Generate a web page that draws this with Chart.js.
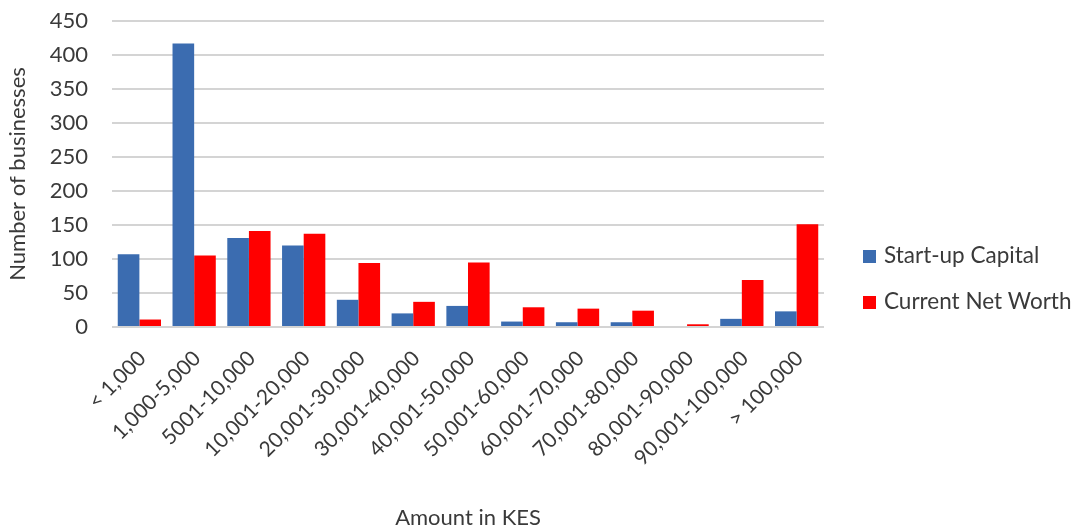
<!DOCTYPE html>
<html>
<head>
<meta charset="utf-8">
<script src="https://cdn.jsdelivr.net/npm/chart.js@4.4.1/dist/chart.umd.min.js"></script>
<style>
  html, body { margin: 0; padding: 0; background: #ffffff; }
  #wrap { width: 1084px; height: 531px; position: relative; }
</style>
</head>
<body>
<div id="wrap"><canvas id="chart" width="1084" height="531"></canvas></div>
<script>
// Amount bands (KES)
const categories = [
  '< 1,000', '1,000-5,000', '5001-10,000', '10,001-20,000', '20,001-30,000',
  '30,001-40,000', '40,001-50,000', '50,001-60,000', '60,001-70,000',
  '70,001-80,000', '80,001-90,000', '90,001-100,000', '> 100,000'
];
// Number of businesses per band
const startUpCapital  = [107, 417, 131, 120, 40, 20, 31, 8, 7, 7, 0, 12, 23];
const currentNetWorth = [11, 105, 141, 137, 94, 37, 95, 29, 27, 24, 4, 69, 151];
const seriesNames = ['Start-up Capital', 'Current Net Worth'];
const yTicks = { min: 0, max: 450, step: 50 };

const FONT = 'Lato, "Open Sans", sans-serif';
const TEXT = '#3a3a3a';

// Legend drawn to the right of the plot area
const sideLegend = {
  id: 'sideLegend',
  afterDraw(chart) {
    const ctx = chart.ctx;
    const area = chart.chartArea;
    ctx.save();
    ctx.font = '22.5px ' + FONT;
    ctx.textBaseline = 'middle';
    ctx.textAlign = 'left';
    chart.data.datasets.forEach((ds, i) => {
      const y = 256 + i * 46;
      const x = area.right + 39;
      ctx.fillStyle = ds.backgroundColor;
      ctx.fillRect(x, y - 6, 13, 13);
      ctx.fillStyle = TEXT;
      ctx.fillText(ds.label, x + 21, y);
    });
    ctx.restore();
  }
};

new Chart(document.getElementById('chart'), {
  type: 'bar',
  data: {
    labels: categories,
    datasets: [
      { label: seriesNames[0], data: startUpCapital, backgroundColor: '#3B6CB0' },
      { label: seriesNames[1], data: currentNetWorth, backgroundColor: '#FF0000' }
    ]
  },
  options: {
    responsive: false,
    animation: false,
    devicePixelRatio: 1,
    layout: { padding: { top: 21, right: 260, left: 0, bottom: 0 } },
    datasets: { bar: { categoryPercentage: 0.79, barPercentage: 1.0 } },
    plugins: {
      legend: { display: false },
      tooltip: { enabled: false }
    },
    scales: {
      x: {
        grid: { display: false },
        border: { display: false },
        ticks: {
          color: TEXT,
          font: { family: FONT, size: 21 },
          minRotation: 45,
          maxRotation: 45,
          autoSkip: false,
          padding: 11,
          labelOffset: 3
        },
        title: {
          display: true,
          text: 'Amount in KES',
          color: TEXT,
          font: { family: FONT, size: 22 },
          padding: { top: 0, bottom: 0 }
        },
        afterFit(scale) {
          scale.height = 204;
          scale.paddingTop = 0;
          scale.paddingBottom = 0;
        }
      },
      y: {
        min: yTicks.min,
        max: yTicks.max,
        border: { display: false },
        grid: { color: '#d4d4d4', lineWidth: 2, drawTicks: false },
        ticks: {
          stepSize: yTicks.step,
          color: TEXT,
          font: { family: FONT, size: 22 },
          padding: 24
        },
        title: {
          display: true,
          text: 'Number of businesses',
          color: TEXT,
          font: { family: FONT, size: 22 },
          padding: { top: 5, bottom: 0 }
        },
        afterFit(scale) {
          scale.width = 112;
          scale.paddingTop = 0;
          scale.paddingBottom = 0;
        }
      }
    }
  },
  plugins: [sideLegend]
});
</script>
</body>
</html>
